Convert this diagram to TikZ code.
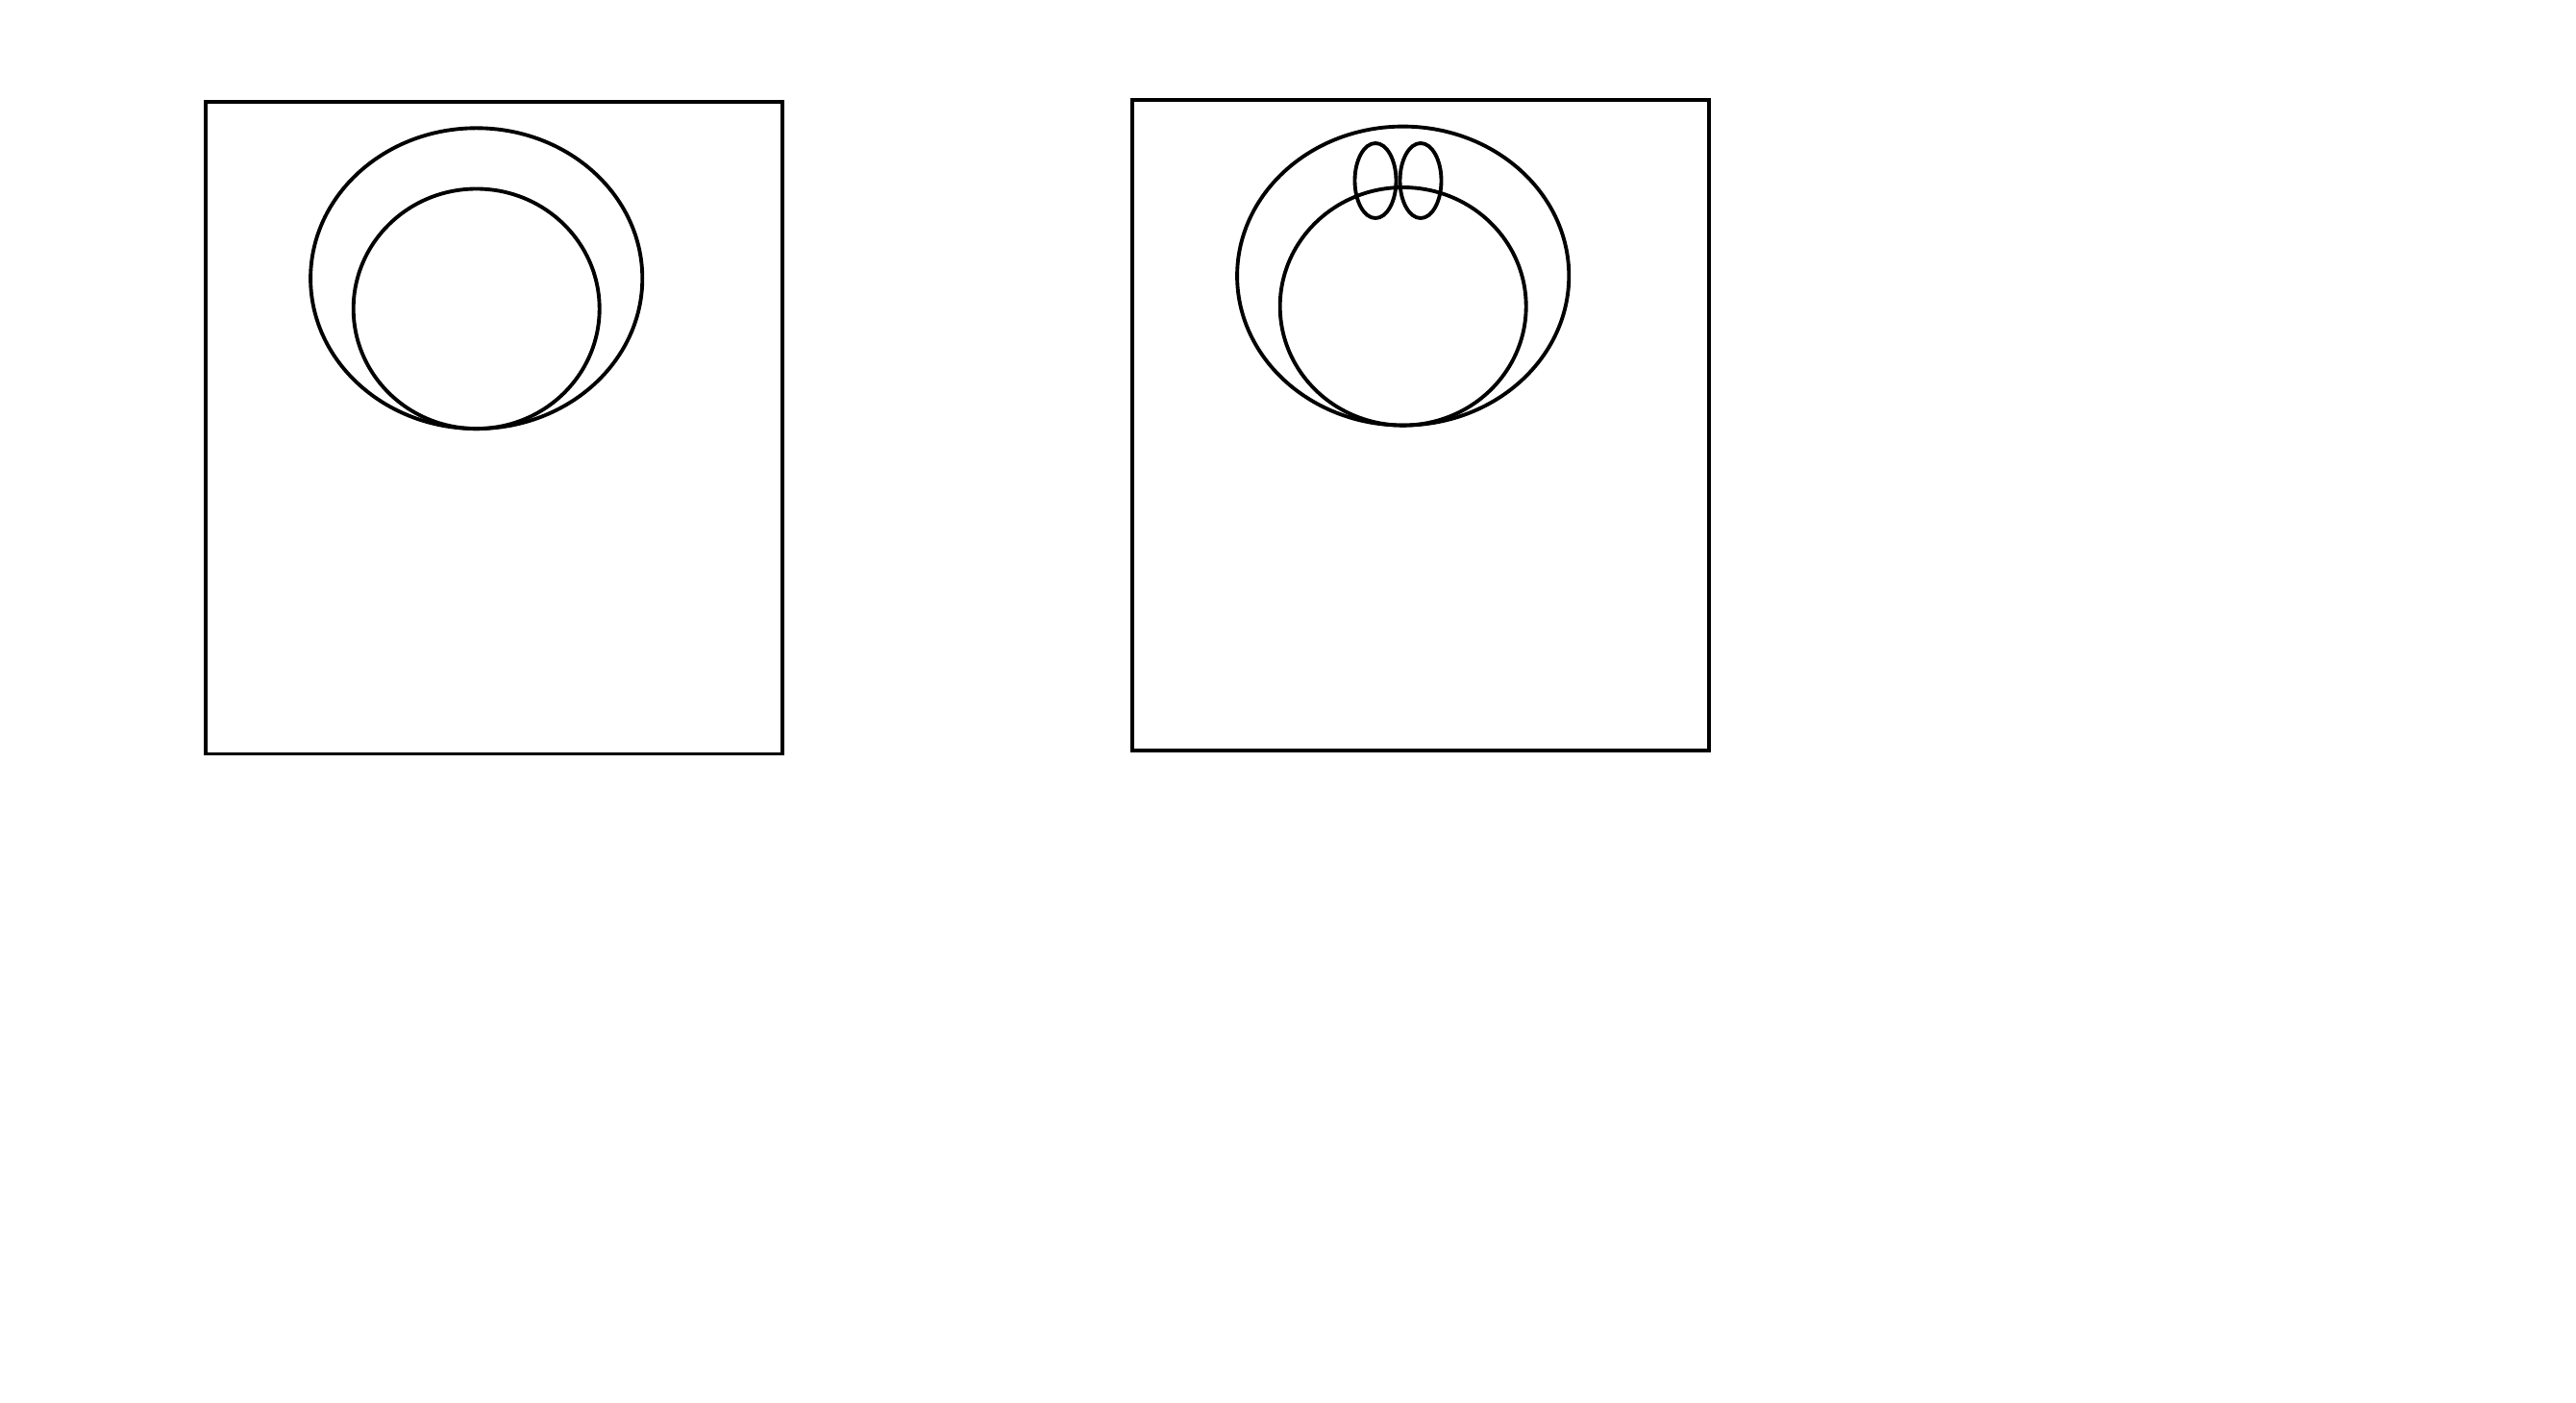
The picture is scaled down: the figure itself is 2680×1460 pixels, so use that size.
\documentclass[tikz,border=0pt]{standalone}
\begin{document}
\begin{tikzpicture}[x=0.01cm,y=-0.01cm,
  outline/.style={draw=black,line width=1.1pt}]
\useasboundingbox[fill=white] (0,0) rectangle (2680,1460);
% left panel
\draw[outline] (213.6,106) rectangle (813.6,784.5);
\draw[outline] (495.7,289.7) ellipse [x radius=172.6,y radius=156.4];
\draw[outline] (495.7,321.3) ellipse [x radius=128,y radius=124.8];
% right panel
\draw[outline] (1177.6,104.3) rectangle (1777.6,781.1);
\draw[outline] (1459.7,287.1) ellipse [x radius=172.6,y radius=155.5];
\draw[outline] (1459.7,318.8) ellipse [x radius=128,y radius=123.8];
\draw[outline] (1431,188) ellipse [x radius=21.5,y radius=39];
\draw[outline] (1478,188) ellipse [x radius=21.5,y radius=39];
\end{tikzpicture}
\end{document}
